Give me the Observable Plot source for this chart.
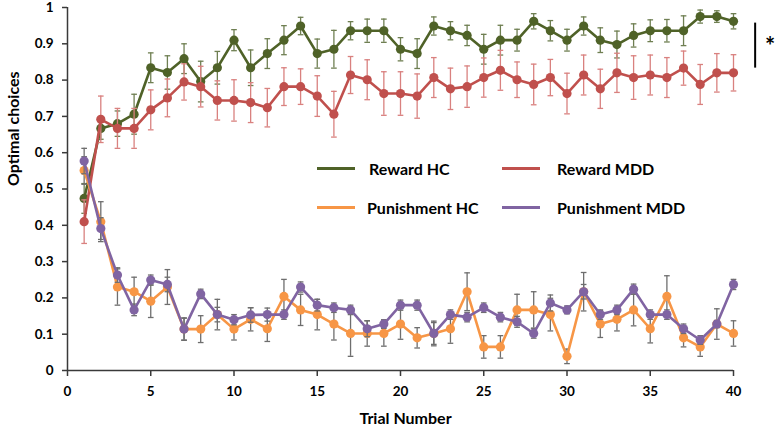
<!DOCTYPE html>
<html>
<head>
<meta charset="utf-8">
<script src="https://cdn.jsdelivr.net/npm/d3@7"></script>
<script src="https://cdn.jsdelivr.net/npm/@observablehq/plot@0.6"></script>
<style>
  html, body { margin: 0; padding: 0; background: #fff; }
  #wrap { position: relative; width: 776px; height: 426px; font-family: Lato, "Open Sans", sans-serif; }
  .leg { position: absolute; display: flex; align-items: center; font-weight: bold; font-size: 16px; color: #000; white-space: nowrap; }
  .leg .sw { display: inline-block; width: 38px; height: 3px; }
</style>
</head>
<body>
<div id="wrap"></div>
<script>
const trials = [1,2,3,4,5,6,7,8,9,10,11,12,13,14,15,16,17,18,19,20,21,22,23,24,25,26,27,28,29,30,31,32,33,34,35,36,37,38,39,40];

const rewardHC = [0.474,0.667,0.680,0.706,0.834,0.821,0.859,0.796,0.834,0.910,0.834,0.873,0.910,0.949,0.873,0.885,0.936,0.936,0.936,0.885,0.873,0.949,0.936,0.923,0.885,0.910,0.910,0.962,0.936,0.910,0.949,0.910,0.898,0.923,0.936,0.936,0.936,0.975,0.975,0.962];
const rewardHCErr = [0.041,0.030,0.035,0.055,0.041,0.046,0.041,0.056,0.045,0.029,0.049,0.041,0.040,0.024,0.040,0.052,0.025,0.032,0.032,0.032,0.041,0.025,0.025,0.028,0.041,0.041,0.030,0.021,0.028,0.030,0.025,0.034,0.037,0.032,0.030,0.031,0.041,0.018,0.016,0.021];

const rewardMDD = [0.410,0.692,0.667,0.667,0.718,0.751,0.795,0.782,0.744,0.744,0.738,0.724,0.782,0.782,0.756,0.706,0.814,0.801,0.763,0.763,0.756,0.807,0.776,0.782,0.807,0.827,0.801,0.788,0.807,0.763,0.814,0.776,0.820,0.807,0.814,0.807,0.833,0.788,0.820,0.820];
const rewardMDDErr = [0.060,0.064,0.055,0.055,0.055,0.052,0.050,0.056,0.054,0.057,0.055,0.053,0.052,0.049,0.056,0.063,0.051,0.055,0.060,0.060,0.061,0.055,0.057,0.057,0.054,0.055,0.049,0.056,0.050,0.056,0.055,0.054,0.054,0.060,0.055,0.055,0.047,0.055,0.053,0.050];

const punHC = [0.551,0.410,0.230,0.217,0.191,0.230,0.114,0.114,0.154,0.114,0.141,0.115,0.204,0.167,0.154,0.128,0.102,0.102,0.102,0.128,0.090,0.102,0.115,0.217,0.065,0.065,0.167,0.167,0.154,0.039,0.217,0.128,0.141,0.167,0.115,0.204,0.090,0.065,0.128,0.102];
const punHCErr = [0.038,0.055,0.050,0.040,0.045,0.048,0.031,0.037,0.042,0.030,0.032,0.035,0.047,0.043,0.042,0.044,0.063,0.035,0.035,0.042,0.028,0.030,0.040,0.052,0.031,0.031,0.043,0.050,0.045,0.020,0.053,0.037,0.032,0.044,0.039,0.057,0.025,0.026,0.042,0.035];

const punMDD = [0.577,0.391,0.263,0.167,0.249,0.237,0.114,0.211,0.154,0.140,0.153,0.154,0.154,0.230,0.180,0.173,0.167,0.115,0.128,0.180,0.180,0.102,0.154,0.147,0.173,0.147,0.134,0.102,0.186,0.167,0.217,0.154,0.167,0.224,0.154,0.154,0.115,0.084,0.128,0.237];
const punMDDErr = [0.035,0.030,0.020,0.016,0.014,0.020,0.030,0.013,0.020,0.014,0.020,0.018,0.013,0.014,0.016,0.013,0.013,0.022,0.012,0.014,0.014,0.034,0.013,0.013,0.013,0.013,0.015,0.013,0.022,0.011,0.020,0.013,0.013,0.014,0.013,0.013,0.013,0.012,0.010,0.014];

const seriesNames = ["Reward HC", "Reward MDD", "Punishment HC", "Punishment MDD"];
const seriesColors = ["#4F6228", "#C0504D", "#F79646", "#8064A2"];
const errColors = ["#6F7F52", "#D9817F", "#6E6E6E", "#6E6E6E"];
const seriesValues = [rewardHC, rewardMDD, punHC, punMDD];
const seriesErrs = [rewardHCErr, rewardMDDErr, punHCErr, punMDDErr];

const xTicks = [0,5,10,15,20,25,30,35,40];
const yTicks = [0,0.1,0.2,0.3,0.4,0.5,0.6,0.7,0.8,0.9,1];
const xLabel = "Trial Number";
const yLabel = "Optimal choices";
const sigMark = [{x: 41.3, y1: 0.833, y2: 0.957, label: "*", ly: 0.9, lx: 42.2}];

const capHalf = 0.17;
const marks = [];
seriesNames.forEach((name, i) => {
  const rows = trials.map((t, j) => ({t, v: seriesValues[i][j], e: seriesErrs[i][j]}));
  marks.push(Plot.ruleX(rows, {x: "t", y1: d => d.v - d.e, y2: d => d.v + d.e, stroke: errColors[i], strokeWidth: 1.3}));
  marks.push(Plot.link(rows, {x1: d => d.t - capHalf, x2: d => d.t + capHalf, y1: d => d.v - d.e, y2: d => d.v - d.e, stroke: errColors[i], strokeWidth: 1.3}));
  marks.push(Plot.link(rows, {x1: d => d.t - capHalf, x2: d => d.t + capHalf, y1: d => d.v + d.e, y2: d => d.v + d.e, stroke: errColors[i], strokeWidth: 1.3}));
  marks.push(Plot.line(rows, {x: "t", y: "v", stroke: seriesColors[i], strokeWidth: 2.6}));
  marks.push(Plot.dot(rows, {x: "t", y: "v", r: 4.6, fill: seriesColors[i], stroke: "none"}));
});

const chart = Plot.plot({
  width: 776,
  height: 426,
  marginLeft: 67,
  marginRight: 43,
  marginTop: 7,
  marginBottom: 56,
  style: {fontFamily: "Lato, 'Open Sans', sans-serif", background: "#fff", overflow: "visible"},
  x: {domain: [0, 40]},
  y: {domain: [0, 1]},
  marks: [
    ...marks,
    Plot.ruleY([0], {stroke: "#3a3a3a", strokeWidth: 1.5}),
    Plot.ruleX([0], {stroke: "#3a3a3a", strokeWidth: 1.5}),
    Plot.axisX({ticks: xTicks, tickSize: 6, tickPadding: 10, tickFormat: d => String(d), fontSize: 13.5, fontWeight: "bold", stroke: "#3a3a3a", strokeWidth: 1.5, label: null}),
    Plot.axisY({ticks: yTicks, tickSize: 5, tickPadding: 9, tickFormat: d => String(d), fontSize: 13.5, fontWeight: "bold", stroke: "#3a3a3a", strokeWidth: 1.5, label: null}),
    Plot.text([xLabel], {frameAnchor: "bottom", dy: 48, dx: 5, fontSize: 16, fontWeight: "bold", lineAnchor: "middle", fill: "#000"}),
    Plot.text([yLabel], {frameAnchor: "left", dx: -54, dy: -3, rotate: -90, fontSize: 16, fontWeight: "bold", lineAnchor: "middle", fill: "#000"}),
    Plot.ruleX(sigMark, {x: "x", y1: "y1", y2: "y2", stroke: "#000", strokeWidth: 2, clip: false}),
    Plot.text(sigMark, {x: "lx", y: "ly", text: "label", fontSize: 24, fontWeight: "bold", fill: "#000", clip: false, dy: 4})
  ]
});

const wrap = document.getElementById("wrap");
wrap.appendChild(chart);

const legendPos = [
  {left: 317, top: 168, gap: 14}, {left: 502, top: 168, gap: 17},
  {left: 317, top: 207, gap: 12}, {left: 502, top: 207, gap: 17}
];
seriesNames.forEach((name, i) => {
  const el = document.createElement("div");
  el.className = "leg";
  el.style.left = legendPos[i].left + "px";
  el.style.top = (legendPos[i].top - 10) + "px";
  el.style.height = "20px";
  const sw = document.createElement("span");
  sw.className = "sw";
  sw.style.background = seriesColors[i];
  sw.style.marginRight = legendPos[i].gap + "px";
  const tx = document.createElement("span");
  tx.textContent = name;
  el.appendChild(sw);
  el.appendChild(tx);
  wrap.appendChild(el);
});
</script>
</body>
</html>
